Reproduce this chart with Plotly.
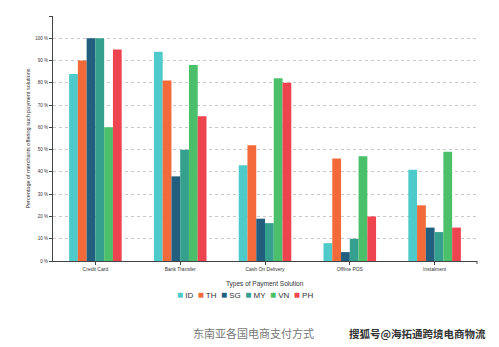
import plotly.graph_objects as go

categories = ["Credit Card", "Bank Transfer", "Cash On Delivery", "Offline POS", "Instalment"]
countries = ["ID", "TH", "SG", "MY", "VN", "PH"]
colors = ["#4fcaca", "#f26a3a", "#225f7f", "#35a08e", "#4cbf6a", "#ee4450"]

id_vals = [84, 94, 43, 8, 41]
th_vals = [90, 81, 52, 46, 25]
sg_vals = [100, 38, 19, 4, 15]
my_vals = [100, 50, 17, 10, 13]
vn_vals = [60, 88, 82, 47, 49]
ph_vals = [95, 65, 80, 20, 15]
series = [id_vals, th_vals, sg_vals, my_vals, vn_vals, ph_vals]

y_ticks = list(range(0, 111, 10))
y_labels = [f"{v} %" for v in range(0, 101, 10)] + [""]

font_main = "Liberation Sans, Arial, sans-serif"
font_cjk = "Noto Sans CJK SC, sans-serif"

fig = go.Figure()
for name, vals, col in zip(countries, series, colors):
    fig.add_trace(go.Bar(x=categories, y=vals, name=name, showlegend=False,
                         marker=dict(color=col, line=dict(width=0))))

fig.update_layout(
    width=499, height=347,
    margin=dict(l=53, r=22, t=16, b=86),
    paper_bgcolor="white", plot_bgcolor="white",
    barmode="group", bargap=0.38, bargroupgap=0,
    font=dict(family=font_main, color="#333"),
    xaxis=dict(showline=True, linecolor="#444", linewidth=1, ticks="outside", ticklen=3,
               tickcolor="#444", tickfont=dict(size=5, color="#333"), showgrid=False,
               zeroline=False),
    yaxis=dict(range=[0, 110], tickvals=y_ticks, ticktext=y_labels, showline=True,
               linecolor="#444", linewidth=1, ticks="outside", ticklen=3, tickcolor="#444",
               tickfont=dict(size=4.5, color="#333"), showgrid=True, gridcolor="#c8c8c8",
               griddash="dot", gridwidth=1, zeroline=False,
               title=dict(text="Percentage of merchants offering such payment solutions",
                          font=dict(size=5.5, color="#333"), standoff=4)),
)

# right end tick of the category axis
fig.add_shape(type="line", xref="paper", yref="paper", x0=1, x1=1, y0=0, y1=-0.012,
              line=dict(color="#444", width=1))

fig.add_annotation(text="Types of Payment Solution", xref="paper", yref="paper",
                   x=0.5, y=-0.092, xanchor="center", yanchor="middle", showarrow=False,
                   font=dict(size=6.5, color="#333", family=font_main))

# compact legend: coloured squares followed by country codes
legend_text = "&nbsp;&nbsp;".join(
    f'<span style="color:{c}; font-size:10px">■</span> {n}' for n, c in zip(countries, colors)
)
fig.add_annotation(text=legend_text, xref="paper", yref="paper",
                   x=0.453, y=-0.136, xanchor="center", yanchor="middle", showarrow=False,
                   font=dict(size=8, color="#333", family=font_main))

fig.add_annotation(text="东南亚各国电商支付方式", xref="paper", yref="paper",
                   x=0.472, y=-0.295, xanchor="center", yanchor="middle", showarrow=False,
                   font=dict(size=11, color="#777", family=font_cjk))
fig.add_annotation(text="<b>搜狐号@海拓通跨境电商物流</b>", xref="paper", yref="paper",
                   x=1.026, y=-0.295, xanchor="right", yanchor="middle", showarrow=False,
                   font=dict(size=10.5, color="#333", family=font_cjk))

fig.write_html("out.html")
